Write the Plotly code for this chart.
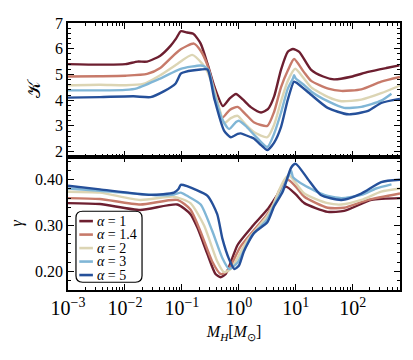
import numpy as np
import plotly.graph_objects as go
from plotly.subplots import make_subplots

# values (x is log10 of M_H / M_sun)
alphas = ["1", "1.4", "2", "3", "5"]
colors = ["#6d1f30", "#c77a6a", "#dcd5b4", "#80b6d6", "#25509a"]

k_x_1 = [-3.00, -2.44, -1.99, -1.78, -1.61, -1.38, -1.20, -1.10, -1.02, -0.91, -0.80, -0.67, -0.55, -0.43,
         -0.28, -0.16, -0.05, 0.07, 0.21, 0.39, 0.51, 0.62, 0.74, 0.86, 0.95, 1.06, 1.27, 1.48, 1.67, 1.97,
         2.27, 2.59, 2.82]
k_y_1 = [5.40, 5.38, 5.40, 5.50, 5.50, 5.73, 6.11, 6.40, 6.68, 6.63, 6.58, 6.20, 5.41, 4.53,
         3.77, 4.07, 4.24, 4.03, 3.73, 3.52, 3.65, 4.15, 5.18, 5.88, 5.99, 5.88, 5.18, 4.92, 4.81, 4.91,
         5.10, 5.25, 5.35]

k_x_14 = [-3.00, -2.44, -1.99, -1.61, -1.38, -1.15, -1.02, -0.79, -0.67, -0.55, -0.43, -0.29, -0.16, -0.02,
          0.12, 0.27, 0.50, 0.62, 0.74, 0.86, 0.97, 1.14, 1.27, 1.57, 1.80, 2.15, 2.50, 2.83]
k_y_14 = [4.92, 4.93, 4.95, 5.02, 5.25, 5.73, 5.98, 6.20, 5.92, 5.35, 4.40, 3.32, 3.62, 3.74,
          3.45, 3.13, 3.00, 3.55, 4.50, 5.15, 5.60, 5.10, 4.75, 4.45, 4.36, 4.42, 4.72, 4.90]

k_x_2 = [-3.00, -2.44, -1.99, -1.68, -1.38, -1.08, -0.82, -0.64, -0.55, -0.43, -0.32, -0.26, -0.14, -0.02,
         0.12, 0.27, 0.50, 0.62, 0.74, 0.86, 0.99, 1.14, 1.27, 1.57, 1.80, 2.15, 2.50, 2.83]
k_y_2 = [4.58, 4.60, 4.58, 4.63, 4.97, 5.41, 5.76, 5.41, 5.10, 4.35, 3.51, 3.10, 3.30, 3.39,
         3.05, 2.75, 2.56, 3.05, 3.95, 4.75, 5.22, 4.85, 4.50, 4.12, 3.96, 4.02, 4.27, 4.57]

k_x_3 = [-3.00, -2.44, -1.99, -1.79, -1.38, -1.02, -0.67, -0.61, -0.53, -0.43, -0.30, -0.17, -0.05, 0.00,
         0.12, 0.27, 0.50, 0.62, 0.74, 0.86, 0.95, 0.97, 1.00, 1.14, 1.27, 1.57, 1.85, 2.15, 2.50, 2.68]
k_y_3 = [4.38, 4.38, 4.40, 4.46, 4.84, 5.22, 5.35, 5.32, 5.16, 4.25, 3.30, 2.88, 3.15, 3.20,
         3.00, 2.65, 2.18, 2.70, 3.51, 4.45, 4.84, 4.97, 4.84, 4.60, 4.34, 3.95, 3.70, 3.74, 3.98, 4.25]

k_x_5 = [-3.00, -2.44, -1.85, -1.55, -1.32, -1.11, -1.02, -0.94, -0.67, -0.55, -0.43, -0.26, -0.14, -0.02,
         0.03, 0.21, 0.27, 0.39, 0.50, 0.62, 0.74, 0.86, 0.97, 1.03, 1.27, 1.56, 1.92, 2.27, 2.50, 2.83]
k_y_5 = [4.10, 4.12, 4.15, 4.12, 4.34, 4.65, 5.03, 5.10, 5.19, 5.19, 4.05, 2.82, 2.56, 2.69,
         2.71, 2.56, 2.50, 2.25, 2.06, 2.35, 2.95, 4.02, 4.72, 4.65, 4.21, 3.70, 3.45, 3.58, 3.89, 4.05]

g_x_1 = [-3.00, -2.44, -1.73, -1.08, -0.85, -0.73, -0.55, -0.41, -0.32, -0.23, -0.02, 0.25, 0.50, 0.71,
         0.83, 1.00, 1.15, 1.56, 1.85, 2.33, 2.83]
g_y_1 = [0.349, 0.347, 0.334, 0.346, 0.325, 0.296, 0.237, 0.194, 0.187, 0.194, 0.258, 0.300, 0.335, 0.372,
         0.385, 0.368, 0.349, 0.330, 0.332, 0.356, 0.360]

g_x_14 = [-3.00, -2.44, -1.73, -1.08, -0.85, -0.67, -0.47, -0.32, -0.20, 0.03, 0.50, 0.62, 0.71, 0.86,
          1.00, 1.15, 1.56, 1.85, 2.27, 2.83]
g_y_14 = [0.360, 0.358, 0.346, 0.356, 0.335, 0.286, 0.222, 0.194, 0.200, 0.254, 0.325, 0.350, 0.377, 0.400,
          0.385, 0.363, 0.339, 0.339, 0.356, 0.370]

g_x_2 = [-3.00, -2.44, -1.73, -1.14, -0.85, -0.61, -0.38, -0.26, -0.14, 0.15, 0.50, 0.62, 0.71, 0.80,
         0.88, 1.15, 1.56, 1.80, 2.15, 2.50, 2.83]
g_y_2 = [0.374, 0.372, 0.356, 0.363, 0.349, 0.300, 0.222, 0.198, 0.205, 0.268, 0.321, 0.350, 0.378, 0.400,
         0.410, 0.370, 0.349, 0.346, 0.356, 0.374, 0.381]

g_x_3 = [-3.00, -2.44, -1.38, -1.14, -1.02, -0.91, -0.67, -0.47, -0.29, -0.17, -0.02, 0.21, 0.50, 0.62,
         0.74, 0.86, 0.92, 0.95, 1.15, 1.50, 1.80, 2.15, 2.41, 2.68]
g_y_3 = [0.381, 0.376, 0.366, 0.368, 0.372, 0.365, 0.346, 0.289, 0.229, 0.205, 0.219, 0.275, 0.314, 0.345,
         0.372, 0.405, 0.420, 0.406, 0.388, 0.367, 0.360, 0.367, 0.381, 0.390]

g_x_5 = [-3.00, -2.44, -1.55, -1.14, -1.06, -1.02, -0.91, -0.55, -0.38, -0.29, -0.17, -0.08, 0.00, 0.09,
         0.27, 0.50, 0.62, 0.77, 0.92, 1.00, 1.21, 1.44, 1.80, 2.15, 2.50, 2.83]
g_y_5 = [0.387, 0.379, 0.367, 0.372, 0.380, 0.389, 0.386, 0.365, 0.325, 0.272, 0.226, 0.205, 0.212, 0.244,
         0.284, 0.307, 0.342, 0.374, 0.427, 0.435, 0.402, 0.367, 0.356, 0.370, 0.395, 0.400]

kappa = [(k_x_1, k_y_1), (k_x_14, k_y_14), (k_x_2, k_y_2), (k_x_3, k_y_3), (k_x_5, k_y_5)]
gamma = [(g_x_1, g_y_1), (g_x_14, g_y_14), (g_x_2, g_y_2), (g_x_3, g_y_3), (g_x_5, g_y_5)]

FONT = "Liberation Serif"

fig = make_subplots(rows=2, cols=1, shared_xaxes=True, vertical_spacing=0)

for i, a in enumerate(alphas):
    kx, ky = kappa[i]
    gx, gy = gamma[i]
    line = dict(color=colors[i], width=2.4, shape="spline", smoothing=0.6)
    fig.add_trace(go.Scatter(x=10 ** np.array(kx), y=ky, mode="lines", line=line,
                             showlegend=False), row=1, col=1)
    fig.add_trace(go.Scatter(x=10 ** np.array(gx), y=gy, mode="lines", line=line,
                             name=f"<i>α</i> = {a}", showlegend=False), row=2, col=1)

axis_style = dict(
    showline=True, linecolor="black", linewidth=1.5, mirror="allticks",
    ticks="inside", ticklen=6, tickwidth=1.2, tickcolor="black",
    showgrid=False, zeroline=False,
    tickfont=dict(family=FONT, size=16, color="black"),
)

for r in (1, 2):
    fig.update_xaxes(
        type="log", range=[-3, 2.83], dtick=1, exponentformat="power",
        labelalias={"1": "10<sup>0</sup>", "10": "10<sup>1</sup>"},
        minor=dict(ticks="inside", ticklen=3, tickcolor="black", showgrid=False),
        row=r, col=1, **axis_style,
    )
fig.update_xaxes(showticklabels=False, row=1, col=1)
fig.update_xaxes(
    title=dict(text="<i>M<sub>H</sub></i>[<i>M</i><sub>⊙</sub>]", standoff=8,
               font=dict(family=FONT, size=16, color="black")),
    row=2, col=1,
)

fig.update_yaxes(
    range=[1.81, 7.0], dtick=1, tick0=0,
    minor=dict(ticks="inside", ticklen=3, dtick=0.2, tickcolor="black", showgrid=False),
    title=dict(text="𝒦", standoff=10, font=dict(family=FONT, size=18, color="black")),
    row=1, col=1, **axis_style,
)
fig.update_yaxes(
    range=[0.159, 0.451], dtick=0.1, tick0=0, tickformat=".2f",
    minor=dict(ticks="inside", ticklen=3, dtick=0.02, tickcolor="black", showgrid=False),
    title=dict(text="<i>γ</i>", standoff=8, font=dict(family=FONT, size=16, color="black")),
    row=2, col=1, **axis_style,
)

# rounded legend frame (paper coordinates of the whole plot area)
x0, x1, y0, y1 = 0.024, 0.223, 0.029, 0.295
rx, ry = 0.02, 0.024
frame = (f"M {x0 + rx},{y0} L {x1 - rx},{y0} Q {x1},{y0} {x1},{y0 + ry} "
         f"L {x1},{y1 - ry} Q {x1},{y1} {x1 - rx},{y1} L {x0 + rx},{y1} "
         f"Q {x0},{y1} {x0},{y1 - ry} L {x0},{y0 + ry} Q {x0},{y0} {x0 + rx},{y0} Z")
fig.add_shape(type="path", path=frame, xref="paper", yref="paper",
              line=dict(color="black", width=1.2), fillcolor="white", layer="above")

# legend entries drawn by hand so that the rows sit as tight as in the reference
row_top, row_step = 0.258, 0.0505
for i, a in enumerate(alphas):
    yy = row_top - i * row_step
    fig.add_shape(type="line", xref="paper", yref="paper", x0=0.034, x1=0.075, y0=yy, y1=yy,
                  line=dict(color=colors[i], width=2.6), layer="above")
    fig.add_annotation(x=0.085, y=yy, xref="paper", yref="paper", xanchor="left", yanchor="middle",
                       text=f"<i>α</i> = {a}", showarrow=False, borderpad=0,
                       font=dict(family=FONT, size=14, color="black"))

# the page body adds an 8px offset, so the margins are trimmed by that amount
fig.update_layout(
    width=413, height=360,
    margin=dict(l=60, r=21, t=7, b=78),
    plot_bgcolor="white", paper_bgcolor="white",
    font=dict(family=FONT, size=14, color="black"),
    showlegend=False,
)

fig.write_html("out.html")
